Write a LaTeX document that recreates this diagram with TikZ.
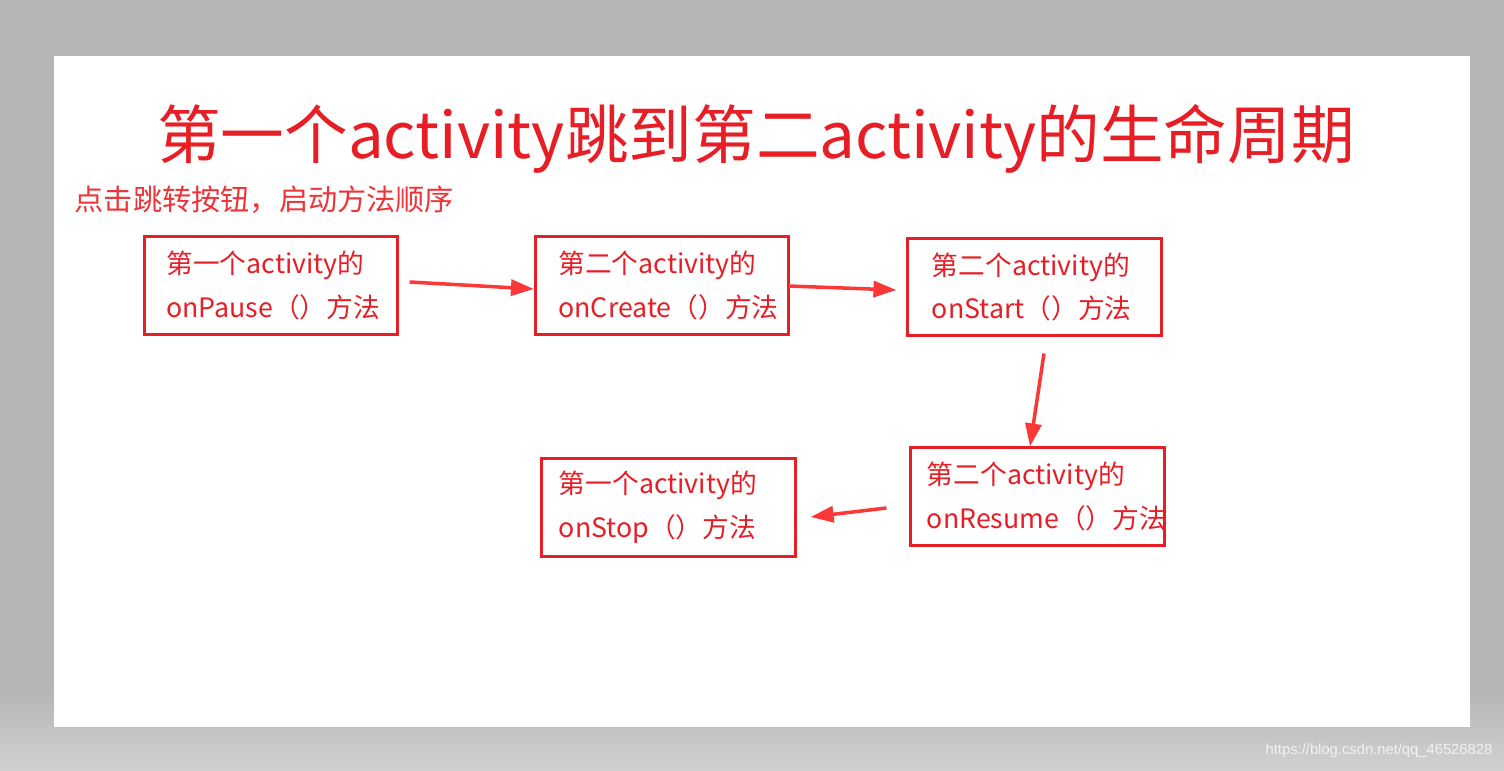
\documentclass[tikz,border=0pt]{standalone}
\usepackage{fontspec}
\setmainfont{Noto Sans CJK SC}
\newfontfamily\wmfont{Liberation Sans}
\usetikzlibrary{arrows.meta}
\definecolor{bggray}{RGB}{181,182,181}
\definecolor{bglight}{RGB}{208,210,208}
\definecolor{boxred}{RGB}{232,30,38}
\definecolor{arrred}{RGB}{250,56,56}
\definecolor{subred}{RGB}{238,52,56}

\begin{document}
\begin{tikzpicture}[x=0.01cm,y=-0.01cm,
	box/.style={draw=boxred,line width=0.85pt,rectangle,minimum width=2.53cm,minimum height=0.97cm,
		text width=#1,align=left,inner xsep=0pt,text=boxred,font=\fontsize{7.6}{12.4}\selectfont},
	box/.default=2.09cm,
	arr/.style={arrred,line width=1pt,-{Triangle[length=0.23cm,width=0.16cm]}}]
	% slide and background
	\fill [bggray] (0,0) rectangle (1504,771);
	\shade [top color=bggray,bottom color=bglight] (0,690) rectangle (1504,771);
	\fill [white] (54,56) rectangle (1470,727);
	% texts
	\node [text=boxred,font=\fontsize{18.1}{20}\selectfont] (title) at (756,139) {第一个activity跳到第二activity的生命周期};
	\node [anchor=west,inner sep=0pt,text=subred,font=\fontsize{8.3}{10}\selectfont] (sub) at (74,200) {点击跳转按钮，启动方法顺序};
	% method boxes
	\node [box] (pause) at (271,285.5) {第一个activity的\\onPause（）方法};
	\node [box=2.07cm] (create) at (662,285.5) {第二个activity的\\onCreate（）方法};
	\node [box=2.05cm] (start) at (1034.5,287) {第二个activity的\\onStart（）方法};
	\node [box=2.21cm] (resume) at (1037.5,496.5) {第二个activity的\\onResume（）方法};
	\node [box=2.19cm] (stop) at (668.5,507.5) {第一个activity的\\onStop（）方法};
	% arrows
	\draw [arr] ([shift={(10.5,-3.5)}]pause.east) -- ([shift={(0,3.5)}]create.west);
	\draw [arr] ([shift={(-1.5,0.5)}]create.east) -- ([shift={(-10,3)}]start.west);
	\draw [arr] ([shift={(9.5,16.5)}]start.south) -- ([shift={(-7.5,0)}]resume.north);
	\draw [arr] ([shift={(-23,11.5)}]resume.west) -- ([shift={(14,9.5)}]stop.east);
	% watermark
	\node [anchor=east,inner sep=0pt,text=white!90!gray,font=\wmfont\fontsize{4.2}{5}\selectfont] (wm) at (1493,751) {https://blog.csdn.net/qq\_46526828};
\end{tikzpicture}
\end{document}
